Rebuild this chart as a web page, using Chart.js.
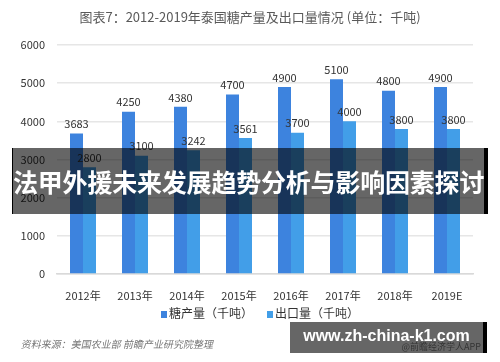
<!DOCTYPE html>
<html>
<head>
<meta charset="utf-8">
<script src="https://cdn.jsdelivr.net/npm/chart.js@4"></script>
<style>
  html, body { margin: 0; padding: 0; background: #fff; }
  #wrap { position: relative; width: 500px; height: 362px; overflow: hidden;
          font-family: 'Noto Sans CJK SC', 'Noto Sans', sans-serif; }
  #c { position: absolute; left: 0; top: 0; }
  .title { position: absolute; left: 0; width: 500px; top: 7px; text-align: center;
           font-size: 13px; color: #595959; }
  .legend { position: absolute; top: 304px; left: 161px; font-size: 12px; color: #333; white-space: nowrap; }
  .legend span.item { margin-right: 14px; }
  .legend i { display: inline-block; width: 6px; height: 7px; margin-right: 2px; vertical-align: 0px; }
  .source { position: absolute; left: 20px; top: 336px; font-size: 10px; color: #777;
            transform: skewX(-12deg); transform-origin: left bottom; }
  .banner { position: absolute; left: 12px; top: 148px; width: 471px; height: 66px;
            background: rgba(0,0,0,0.6); border-left: 1px solid #000; border-right: 4px solid #000;
            color: #fff; font-weight: bold; font-size: 25px; line-height: 66px; text-align: center;
            white-space: nowrap; letter-spacing: -0.2px; }
  .site { position: absolute; left: 290px; top: 322px; width: 193px; height: 31px;
          background: rgba(0,0,0,0.6); border-right: 4px solid #000; }
  .site .url { position: absolute; left: 0; width: 193px; top: 5px; text-align: center; color: #fff;
               font-family: 'Liberation Sans', Arial, sans-serif; font-weight: bold; font-size: 16px; }
  .site .app { position: absolute; right: 2px; top: 18px; font-size: 9px; color: #333; }
</style>
</head>
<body>
<div id="wrap">
  <canvas id="c" width="500" height="362"></canvas>
  <div class="title">图表7：2012-2019年泰国糖产量及出口量情况 (单位：千吨)</div>
  <div class="legend" id="legend"></div>
  <div class="source">资料来源：美国农业部 前瞻产业研究院整理</div>
  <div class="banner">法甲外援未来发展趋势分析与影响因素探讨</div>
  <div class="site"><div class="url">www.zh-china-k1.com</div><div class="app">@前瞻经济学人APP</div></div>
</div>
<script>
const years = ['2012年', '2013年', '2014年', '2015年', '2016年', '2017年', '2018年', '2019E'];
const sugarOutput = [3683, 4250, 4380, 4700, 4900, 5100, 4800, 4900];
const sugarExport = [2800, 3100, 3242, 3561, 3700, 4000, 3800, 3800];
const seriesNames = ['糖产量（千吨）', '出口量（千吨）'];
const seriesColors = ['#3d83de', '#429ee8'];

const FONT = "'Noto Sans CJK SC', 'Noto Sans', sans-serif";

/* value labels above each bar */
const valueLabels = {
  id: 'valueLabels',
  afterDatasetsDraw(chart) {
    const ctx = chart.ctx;
    ctx.save();
    ctx.font = '11px ' + FONT;
    ctx.fillStyle = '#333';
    ctx.textAlign = 'center';
    ctx.textBaseline = 'bottom';
    chart.data.datasets.forEach((ds, i) => {
      chart.getDatasetMeta(i).data.forEach((bar, j) => {
        ctx.fillText(ds.data[j], bar.x, bar.y - 4);
      });
    });
    ctx.restore();
  }
};

new Chart(document.getElementById('c'), {
  type: 'bar',
  data: {
    labels: years,
    datasets: [
      { label: seriesNames[0], data: sugarOutput, backgroundColor: seriesColors[0] },
      { label: seriesNames[1], data: sugarExport, backgroundColor: seriesColors[1] }
    ]
  },
  options: {
    responsive: false, animation: false,
    categoryPercentage: 0.5, barPercentage: 1,
    layout: { padding: { left: 0, right: 27, top: 45, bottom: 58 } },
    plugins: { legend: { display: false }, tooltip: { enabled: false } },
    scales: {
      x: {
        afterFit(s) { s.height = 30; },
        grid: { display: false },
        border: { color: '#d9d9d9', width: 1.5 },
        ticks: { color: '#333', font: { family: FONT, size: 11 }, padding: 7 }
      },
      y: {
        min: 0, max: 6000,
        afterFit(s) { s.width = 57; },
        border: { display: false },
        grid: { color: '#e6e6e6', lineWidth: 1.5, drawTicks: false },
        ticks: { stepSize: 1000, color: '#333', font: { family: FONT, size: 11 }, padding: 12,
                 callback: v => String(v) }
      }
    }
  },
  plugins: [valueLabels]
});

document.getElementById('legend').innerHTML = seriesNames.map((n, i) =>
  '<span class="item"><i style="background:' + seriesColors[i] + '"></i>' + n + '</span>').join('');
</script>
</body>
</html>
